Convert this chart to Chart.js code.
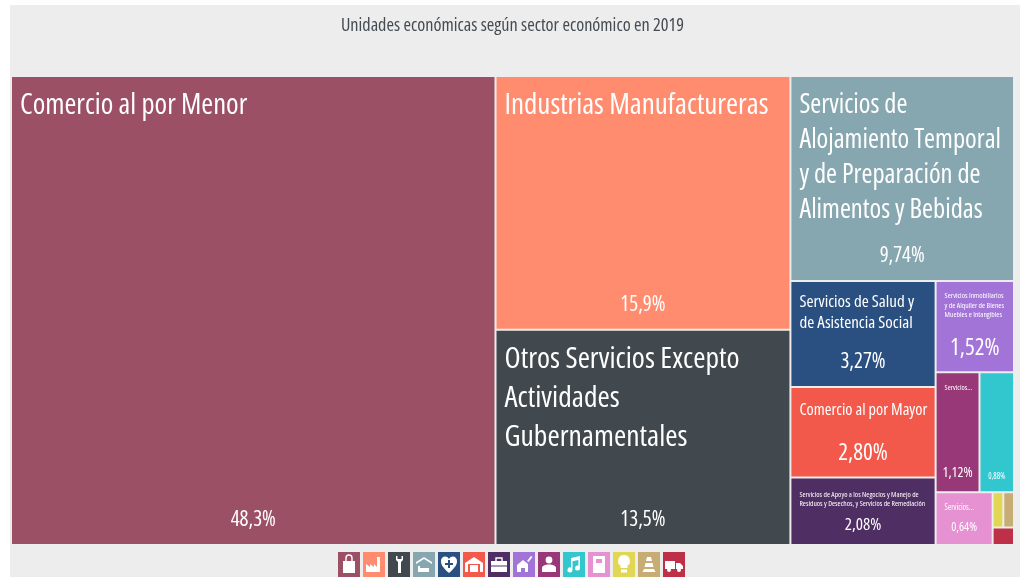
<!DOCTYPE html>
<html lang="es">
<head>
<meta charset="utf-8">
<title>Unidades económicas</title>
<script src="https://cdn.jsdelivr.net/npm/chart.js@4/dist/chart.umd.js"></script>
<style>
  html, body { margin: 0; padding: 0; background: #fff; overflow: hidden; }
  #panel { position: absolute; left: 10px; top: 5px; width: 1010px; height: 572px; background: #ededed; }
  #grafica { position: absolute; left: 0; top: 0; }
  #iconos { position: absolute; left: 338px; top: 552px; display: flex; gap: 3px; }
  #iconos svg { display: block; width: 22px; height: 25px; }
</style>
</head>
<body>
<div id="panel"></div>
<canvas id="grafica" width="1020" height="577"></canvas>
<div id="iconos"></div>
<script>
const titulo = 'Unidades económicas según sector económico en 2019';

const sectores = [
  ['Comercio al por Menor'],
  ['Industrias Manufactureras'],
  ['Otros Servicios Excepto', 'Actividades', 'Gubernamentales'],
  ['Servicios de', 'Alojamiento Temporal', 'y de Preparación de', 'Alimentos y Bebidas'],
  ['Servicios de Salud y', 'de Asistencia Social'],
  ['Comercio al por Mayor'],
  ['Servicios de Apoyo a los Negocios y Manejo de', 'Residuos y Desechos, y Servicios de Remediación'],
  ['Servicios Inmobiliarios', 'y de Alquiler de Bienes', 'Muebles e Intangibles'],
  ['Servicios...'],
  [],
  ['Servicios...'],
  [],
  [],
  []
];
const valores = [48.3, 15.9, 13.5, 9.74, 3.27, 2.80, 2.08, 1.52, 1.12, 0.88, 0.64, 0.08, 0.08, 0.08];
const porcentajes = ['48,3%', '15,9%', '13,5%', '9,74%', '3,27%', '2,80%', '2,08%', '1,52%', '1,12%', '0,88%', '0,64%', '', '', ''];
const colores = ['#9b5066', '#ff8c6e', '#41484e', '#87a7b0', '#2a5082', '#f3594a', '#4f2e63',
  '#a374d8', '#983878', '#32c6cf', '#e591d2', '#e2d755', '#c7ad74', '#bd3047'];

// particion del treemap: cada nivel alterna corte en x / corte en y
const particion = [0, [1, 2], [3, [[4, 5, 6], [7, [8, 9], [10, [[11, 12], 13]]]]]];

// tamano nombre, interlinea, tamano valor, centro 1a linea desde arriba, centro valor desde abajo
const estilos = [
  [28.6, 39, 21, 30, 25],
  [29, 39, 21, 30, 25],
  [29.6, 39, 21, 30, 25],
  [26.5, 35, 21, 29, 25],
  [17, 21, 21, 21, 25],
  [16.3, 21, 23, 23, 24],
  [7.5, 9.5, 17, 17, 20],
  [7.6, 9.5, 23, 15, 24],
  [7.5, 9.5, 14, 16, 19],
  [8, 10, 8, 16, 15],
  [8, 10, 12, 16, 17],
  [8, 10, 8, 10, 10],
  [8, 10, 8, 10, 10],
  [8, 10, 8, 10, 10]
];

const fuente = '"Open Sans", "Roboto Condensed", sans-serif';

const total = valores.reduce((a, b) => a + b, 0);

function sumaNodo(nodo) {
  if (Array.isArray(nodo)) return nodo.reduce((s, n) => s + sumaNodo(n), 0);
  return valores[nodo];
}

// calcula los rectangulos en unidades de los ejes (0..total en los dos)
function repartir(nodo, x0, x1, y0, y1, enX, salida) {
  if (!Array.isArray(nodo)) {
    salida[nodo] = { x0, x1, y0, y1 };
    return salida;
  }
  const suma = sumaNodo(nodo);
  let cursor = enX ? x0 : y0;
  const largo = enX ? x1 - x0 : y1 - y0;
  nodo.forEach(hijo => {
    const tramo = largo * sumaNodo(hijo) / suma;
    if (enX) repartir(hijo, cursor, cursor + tramo, y0, y1, false, salida);
    else repartir(hijo, x0, x1, cursor, cursor + tramo, true, salida);
    cursor += tramo;
  });
  return salida;
}

class TreemapController extends Chart.DatasetController {
  update(mode) {
    const meta = this._cachedMeta;
    this.updateElements(meta.data, 0, meta.data.length, mode);
  }
  updateElements(rects, start, count, mode) {
    const { xScale, yScale } = this._cachedMeta;
    const data = this.getDataset().data;
    for (let i = start; i < start + count; i++) {
      const d = data[i];
      const left = xScale.getPixelForValue(d.x0);
      const right = xScale.getPixelForValue(d.x1);
      const props = {
        x: (left + right) / 2,
        y: yScale.getPixelForValue(d.y0),
        base: yScale.getPixelForValue(d.y1),
        width: right - left,
        height: yScale.getPixelForValue(d.y1) - yScale.getPixelForValue(d.y0),
        horizontal: false,
        inflateAmount: 0,
        borderSkipped: { top: false, left: false, bottom: false, right: false },
        options: this.resolveDataElementOptions(i, mode)
      };
      this.updateElement(rects[i], i, props, mode);
    }
  }
}
TreemapController.id = 'treemap';
TreemapController.defaults = { dataElementType: 'bar' };
Chart.register(TreemapController);

const etiquetasCeldas = {
  id: 'etiquetasCeldas',
  afterDatasetsDraw(chart) {
    const ctx = chart.ctx;
    const rects = chart.getDatasetMeta(0).data;
    ctx.save();
    ctx.fillStyle = '#fff';
    ctx.textBaseline = 'middle';
    rects.forEach((r, i) => {
      const [tam, inter, tamValor, arriba, abajo] = estilos[i];
      const izq = r.x - r.width / 2;
      ctx.textAlign = 'left';
      ctx.font = 'condensed ' + tam + 'px ' + fuente;
      sectores[i].forEach((linea, n) => {
        ctx.fillText(linea, izq + 9, r.y + arriba + n * inter);
      });
      if (porcentajes[i]) {
        ctx.textAlign = 'center';
        ctx.font = 'condensed ' + tamValor + 'px ' + fuente;
        ctx.fillText(porcentajes[i], r.x, r.base - abajo);
      }
    });
    ctx.restore();
  }
};

const celdas = repartir(particion, 0, total, 0, total, true, []);

new Chart(document.getElementById('grafica'), {
  type: 'treemap',
  data: {
    labels: sectores.map(s => s.join(' ')),
    datasets: [{
      label: titulo,
      data: celdas,
      parsing: false,
      backgroundColor: colores,
      borderColor: 'rgba(236,236,236,0.55)',
      borderWidth: 1,
      borderRadius: 0
    }]
  },
  plugins: [etiquetasCeldas],
  options: {
    responsive: false,
    animation: false,
    layout: { padding: { left: 11, right: 6, top: 0, bottom: 32 } },
    scales: {
      x: { type: 'linear', min: 0, max: total, display: false },
      y: { type: 'linear', min: 0, max: total, reverse: true, display: false }
    },
    plugins: {
      legend: { display: false },
      tooltip: { enabled: false },
      title: {
        display: true,
        text: titulo,
        color: '#444b52',
        // el campo weight entra tal cual en el font de canvas
        font: { family: fuente, size: 18.2, weight: 'condensed', lineHeight: 1.2 },
        padding: { top: 15, bottom: 39.2 }
      }
    }
  }
});

// iconos de la leyenda inferior, uno por sector
const iconos = [
  '<path d="M5 9h12v12H5z"/><path d="M8 9V6a3 3 0 0 1 6 0v3" fill="none" stroke="#fff" stroke-width="1.4"/>',
  '<path d="M3 20v-8l4 3v-3l4 3v-3l3 3V5h3v15z"/>',
  '<path d="M8 4v4l2 2v11h3V10l2-2V4l-1.500 0v3h-4V4z"/>',
  '<path d="M3 10l8-5 8 5v2l-8-5-8 5z"/><path d="M5 14h2v2h9v4H5z"/>',
  '<path d="M11 21C4 15 3 12 3 9c0-5 6-6 8-2 2-4 8-3 8 2 0 3-1 6-8 12z"/><path d="M10 8h2v3h3v2h-3v3h-2v-3H7v-2h3z" fill="#2a5082"/>',
  '<path d="M2 11l9-6 9 6v9h-3v-8H5v8H2z"/><path d="M7 13h8v7H7z"/>',
  '<path d="M3 9h16v11H3z"/><path d="M8 9V6h6v3" fill="none" stroke="#fff" stroke-width="1.4"/><path d="M3 14h16" stroke="#4f2e63"/>',
  '<path d="M4 20v-7l6-5 5 4v8h-3v-4H8v4z"/><path d="M14 9l4-5 1.500 1-4 5z"/>',
  '<circle cx="11" cy="8" r="3.400"/><path d="M4 20v-4c0-2 3-3.500 7-3.500s7 1.500 7 3.500v4z"/>',
  '<path d="M8 6l9-2v12a2.500 2.500 0 1 1-1.600-2.300V8L9.500 9.300V18A2.500 2.500 0 1 1 8 15.700z"/>',
  '<path d="M5 4h12v17H5z"/><path d="M8 7h6v4H8z" fill="#e591d2"/>',
  '<path d="M11 3a6 6 0 0 1 3.500 10.800V16h-7v-2.200A6 6 0 0 1 11 3z"/><path d="M8 17.500h6v3H8z"/>',
  '<path d="M9 5h4l1 4H8zM7.500 11h7l1 4h-9zM6 17h10l1.500 3h-13z"/>',
  '<path d="M2 9h10v8H2zM13 11h4l3 3v3h-7z"/><circle cx="6" cy="18" r="2"/><circle cx="16" cy="18" r="2"/>'
];

const contenedor = document.getElementById('iconos');
contenedor.innerHTML = iconos.map((icono, i) =>
  `<svg viewBox="0 0 22 25" fill="#fff"><rect width="22" height="25" fill="${colores[i]}"/>${icono}</svg>`
).join('');
</script>
</body>
</html>
